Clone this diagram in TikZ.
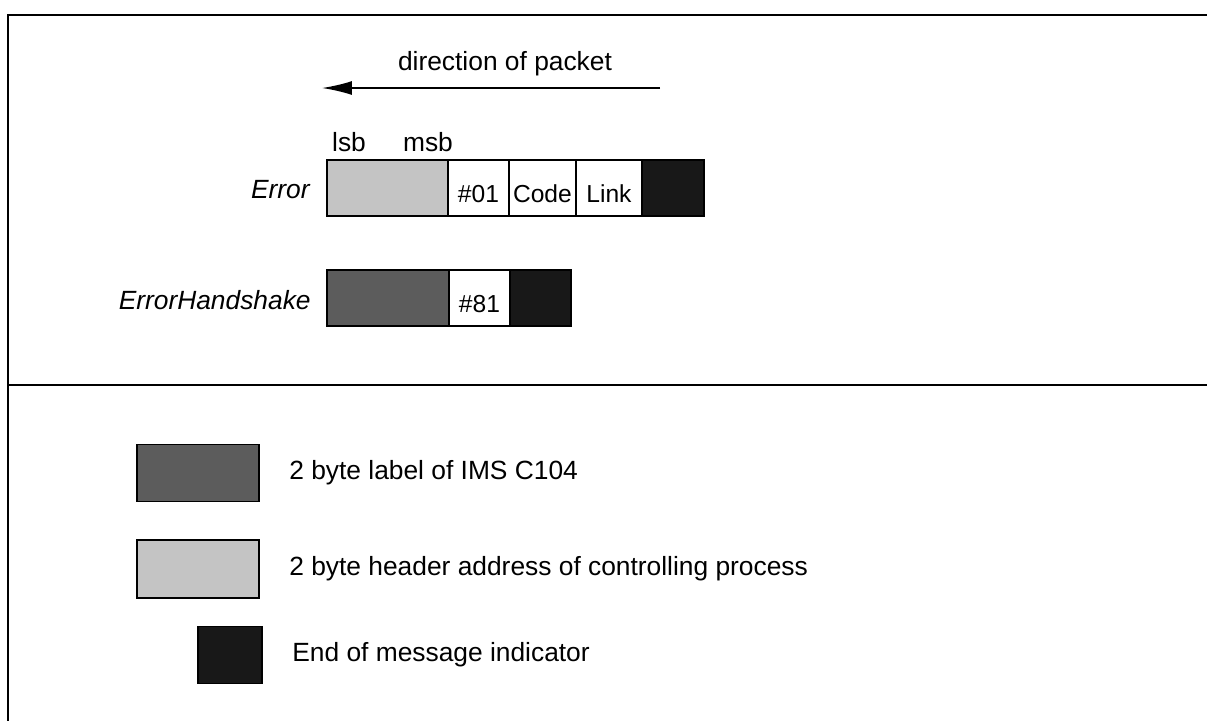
\documentclass[tikz,border=0pt]{standalone}
\usepackage{fontspec}
\setmainfont{Liberation Sans}
\usetikzlibrary{arrows.meta, positioning}
\definecolor{lightdot}{RGB}{196,196,196}
\definecolor{darkdot}{RGB}{92,92,92}
\definecolor{eomblack}{RGB}{24,24,24}
\tikzset{
  field/.style={rectangle, draw=black, line width=1pt, minimum height=1.12cm,
    inner sep=0pt, outer sep=0pt, text height=0.56cm, text depth=0pt,
    font=\fontsize{14}{16}\selectfont},
  hdrfield/.style={field, fill=lightdot, minimum width=2.42cm},
  lblfield/.style={field, fill=darkdot, minimum width=2.44cm},
  eomfield/.style={field, fill=eomblack, minimum width=1.24cm},
  txt/.style={font=\fontsize{15}{18}\selectfont, inner sep=0pt},
  msgname/.style={txt, font=\fontsize{15}{18}\selectfont\itshape, anchor=east},
  arrow/.style={-{Latex[length=6mm,width=2.8mm]}, line width=1pt},
  frame/.style={line width=1.3pt}
}
\begin{document}
\begin{tikzpicture}[x=0.02cm, y=-0.02cm]
  \useasboundingbox (0,0) rectangle (1207,721);
  % frame
  \draw[frame] (1207,15) -- (8,15) -- (8,721);
  \draw[frame] (8,385) -- (1207,385);

  % direction of packet
  \coordinate (dirstart) at (660,88);
  \coordinate (dirend) at (322,88);
  \draw[arrow] (dirstart) -- (dirend);
  \node[txt] (dirlabel) at (505,64) {direction of packet};

  % Error packet
  \node[hdrfield, anchor=west] (err1) at (327,188) {};
  \node[field, minimum width=1.22cm, right=0pt of err1] (err2) {\#01};
  \node[field, minimum width=1.34cm, right=0pt of err2] (err3) {Code};
  \node[field, minimum width=1.32cm, right=0pt of err3] (err4) {Link};
  \node[eomfield, right=0pt of err4] (err5) {};
  \node[txt] (lsb) at (349,142) {lsb};
  \node[txt] (msb) at (428,142) {msb};
  \node[msgname] (errname) at (310,190) {Error};

  % ErrorHandshake packet
  \node[lblfield, anchor=west] (hs1) at (327,298) {};
  \node[field, minimum width=1.22cm, right=0pt of hs1] (hs2) {\#81};
  \node[eomfield, minimum width=1.22cm, right=0pt of hs2] (hs3) {};
  \node[msgname] (hsname) at (311,300) {ErrorHandshake};

  % key
  \node[lblfield, anchor=west, minimum height=1.14cm] (keylbl) at (137,473) {};
  \node[txt, anchor=west, right=0.6cm of keylbl] (keylbltxt) {2 byte label of IMS C104};
  \node[hdrfield, anchor=west, minimum width=2.44cm, minimum height=1.16cm] (keyhdr) at (137,569) {};
  \node[txt, anchor=west, right=0.6cm of keyhdr] (keyhdrtxt) {2 byte header address of controlling process};
  \node[eomfield, anchor=west, minimum width=1.28cm, minimum height=1.14cm] (keyeom) at (198,655) {};
  \node[txt, anchor=west, right=0.6cm of keyeom] (keyeomtxt) {End of message indicator};
\end{tikzpicture}
\end{document}
